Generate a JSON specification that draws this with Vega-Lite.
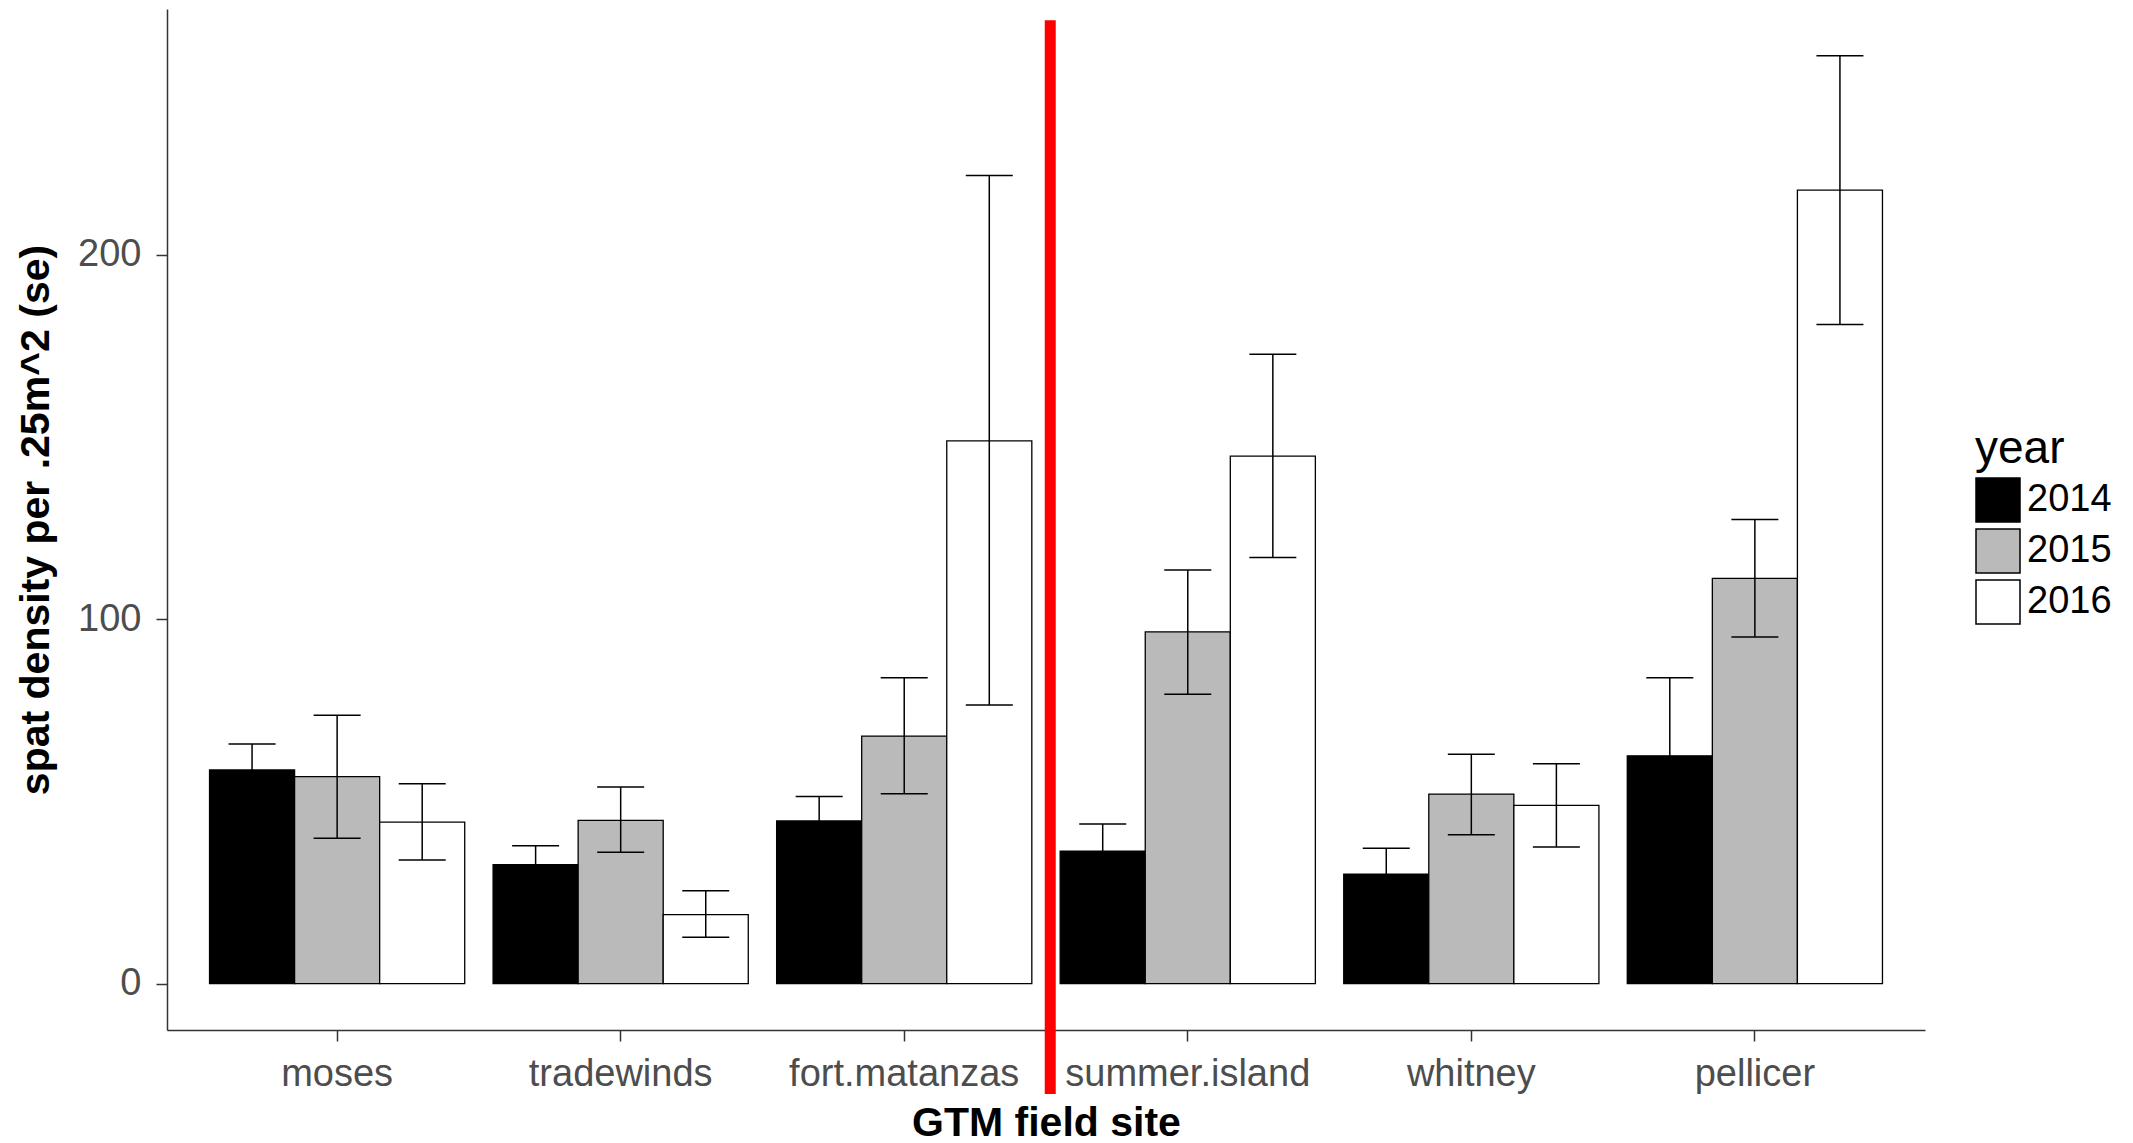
{
  "$schema": "https://vega.github.io/schema/vega-lite/v6.json",
  "width": 1758,
  "height": 1021,
  "autosize": {"type": "none"},
  "padding": {"left": 167, "top": 9, "right": 208, "bottom": 113},
  "background": "white",
  "config": {
    "view": {"stroke": null},
    "font": "Liberation Sans",
    "axis": {"grid": false}
  },
  "datasets": {
    "bars": [
      {"site": "moses", "year": "2014", "mean": 58.6, "lower": 51.5, "upper": 65.7},
      {"site": "moses", "year": "2015", "mean": 56.8, "lower": 39.9, "upper": 73.6},
      {"site": "moses", "year": "2016", "mean": 44.3, "lower": 33.9, "upper": 54.8},
      {"site": "tradewinds", "year": "2014", "mean": 32.6, "lower": 27.4, "upper": 37.8},
      {"site": "tradewinds", "year": "2015", "mean": 44.8, "lower": 36.0, "upper": 53.9},
      {"site": "tradewinds", "year": "2016", "mean": 18.9, "lower": 12.7, "upper": 25.5},
      {"site": "fort.matanzas", "year": "2014", "mean": 44.6, "lower": 37.9, "upper": 51.3},
      {"site": "fort.matanzas", "year": "2015", "mean": 67.9, "lower": 52.1, "upper": 83.9},
      {"site": "fort.matanzas", "year": "2016", "mean": 148.9, "lower": 76.4, "upper": 221.7},
      {"site": "summer.island", "year": "2014", "mean": 36.3, "lower": 28.8, "upper": 43.8},
      {"site": "summer.island", "year": "2015", "mean": 96.5, "lower": 79.4, "upper": 113.5},
      {"site": "summer.island", "year": "2016", "mean": 144.7, "lower": 116.9, "upper": 172.7},
      {"site": "whitney", "year": "2014", "mean": 30.0, "lower": 22.9, "upper": 37.1},
      {"site": "whitney", "year": "2015", "mean": 52.0, "lower": 40.8, "upper": 62.9},
      {"site": "whitney", "year": "2016", "mean": 48.9, "lower": 37.5, "upper": 60.3},
      {"site": "pellicer", "year": "2014", "mean": 62.5, "lower": 41.1, "upper": 83.9},
      {"site": "pellicer", "year": "2015", "mean": 111.2, "lower": 95.1, "upper": 127.3},
      {"site": "pellicer", "year": "2016", "mean": 217.7, "lower": 180.8, "upper": 254.6}
    ],
    "divider": [
      {"site": "fort.matanzas", "bottom": -30.3, "top": 264.3}
    ]
  },
  "layer": [
    {
      "data": {"name": "bars"},
      "mark": {"type": "bar", "stroke": "black", "strokeWidth": 1.3},
      "encoding": {
        "x": {
          "field": "site", "type": "nominal",
          "sort": ["moses", "tradewinds", "fort.matanzas", "summer.island", "whitney", "pellicer"],
          "scale": {"paddingInner": 0, "paddingOuter": 0.1},
          "title": "GTM field site",
          "axis": {
            "labelAngle": 0, "labelFontSize": 38, "labelColor": "#4d4d4d", "labelPadding": 14, "labelLimit": 0,
            "tickSize": 11, "tickWidth": 1.5, "tickColor": "#333333",
            "domainColor": "#333333", "domainWidth": 1.5,
            "titleFontSize": 41, "titleFontWeight": "bold", "titleColor": "black", "titlePadding": 10
          }
        },
        "xOffset": {
          "field": "year", "type": "nominal",
          "sort": ["2014", "2015", "2016"],
          "scale": {"paddingInner": 0, "paddingOuter": 0.1667}
        },
        "y": {
          "field": "mean", "type": "quantitative",
          "scale": {"domain": [-12.74, 267.4], "nice": false, "zero": false},
          "title": "spat density per .25m^2 (se)",
          "axis": {
            "values": [0, 100, 200],
            "labelFontSize": 38, "labelColor": "#4d4d4d", "labelPadding": 15,
            "tickSize": 11, "tickWidth": 1.5, "tickColor": "#333333",
            "domainColor": "#333333", "domainWidth": 1.5,
            "titleFontSize": 41, "titleFontWeight": "bold", "titleColor": "black", "titlePadding": 20
          }
        },
        "y2": {"datum": 0},
        "fill": {
          "field": "year", "type": "nominal",
          "scale": {"domain": ["2014", "2015", "2016"], "range": ["#000000", "#bababa", "#ffffff"]},
          "legend": {
            "title": "year", "orient": "none", "legendX": 1808, "legendY": 418,
            "padding": 0, "symbolType": "square", "symbolSize": 1936,
            "symbolStrokeColor": "black", "symbolStrokeWidth": 1.5, "symbolOpacity": 1,
            "rowPadding": 1, "labelOffset": 6, "labelFontSize": 38, "labelColor": "black",
            "titleFontSize": 46, "titleFontWeight": "normal", "titleColor": "black", "titlePadding": 4
          }
        }
      }
    },
    {
      "data": {"name": "bars"},
      "mark": {"type": "rule", "color": "black", "strokeWidth": 1.5},
      "encoding": {
        "x": {"field": "site", "type": "nominal", "sort": ["moses", "tradewinds", "fort.matanzas", "summer.island", "whitney", "pellicer"]},
        "xOffset": {"field": "year", "type": "nominal", "sort": ["2014", "2015", "2016"]},
        "y": {"field": "lower", "type": "quantitative"},
        "y2": {"field": "upper"}
      }
    },
    {
      "data": {"name": "bars"},
      "mark": {"type": "tick", "color": "black", "size": 47, "thickness": 1.5, "opacity": 1},
      "encoding": {
        "x": {"field": "site", "type": "nominal", "sort": ["moses", "tradewinds", "fort.matanzas", "summer.island", "whitney", "pellicer"]},
        "xOffset": {"field": "year", "type": "nominal", "sort": ["2014", "2015", "2016"]},
        "y": {"field": "upper", "type": "quantitative"}
      }
    },
    {
      "data": {"name": "bars"},
      "mark": {"type": "tick", "color": "black", "size": 47, "thickness": 1.5, "opacity": 1},
      "encoding": {
        "x": {"field": "site", "type": "nominal", "sort": ["moses", "tradewinds", "fort.matanzas", "summer.island", "whitney", "pellicer"]},
        "xOffset": {"field": "year", "type": "nominal", "sort": ["2014", "2015", "2016"]},
        "y": {"field": "lower", "type": "quantitative"}
      }
    },
    {
      "data": {"name": "divider"},
      "mark": {"type": "rule", "color": "#ff0000", "strokeWidth": 11, "strokeCap": "butt"},
      "encoding": {
        "x": {"field": "site", "type": "nominal", "bandPosition": 1.015, "sort": ["moses", "tradewinds", "fort.matanzas", "summer.island", "whitney", "pellicer"]},
        "y": {"field": "bottom", "type": "quantitative"},
        "y2": {"field": "top"}
      }
    }
  ]
}
